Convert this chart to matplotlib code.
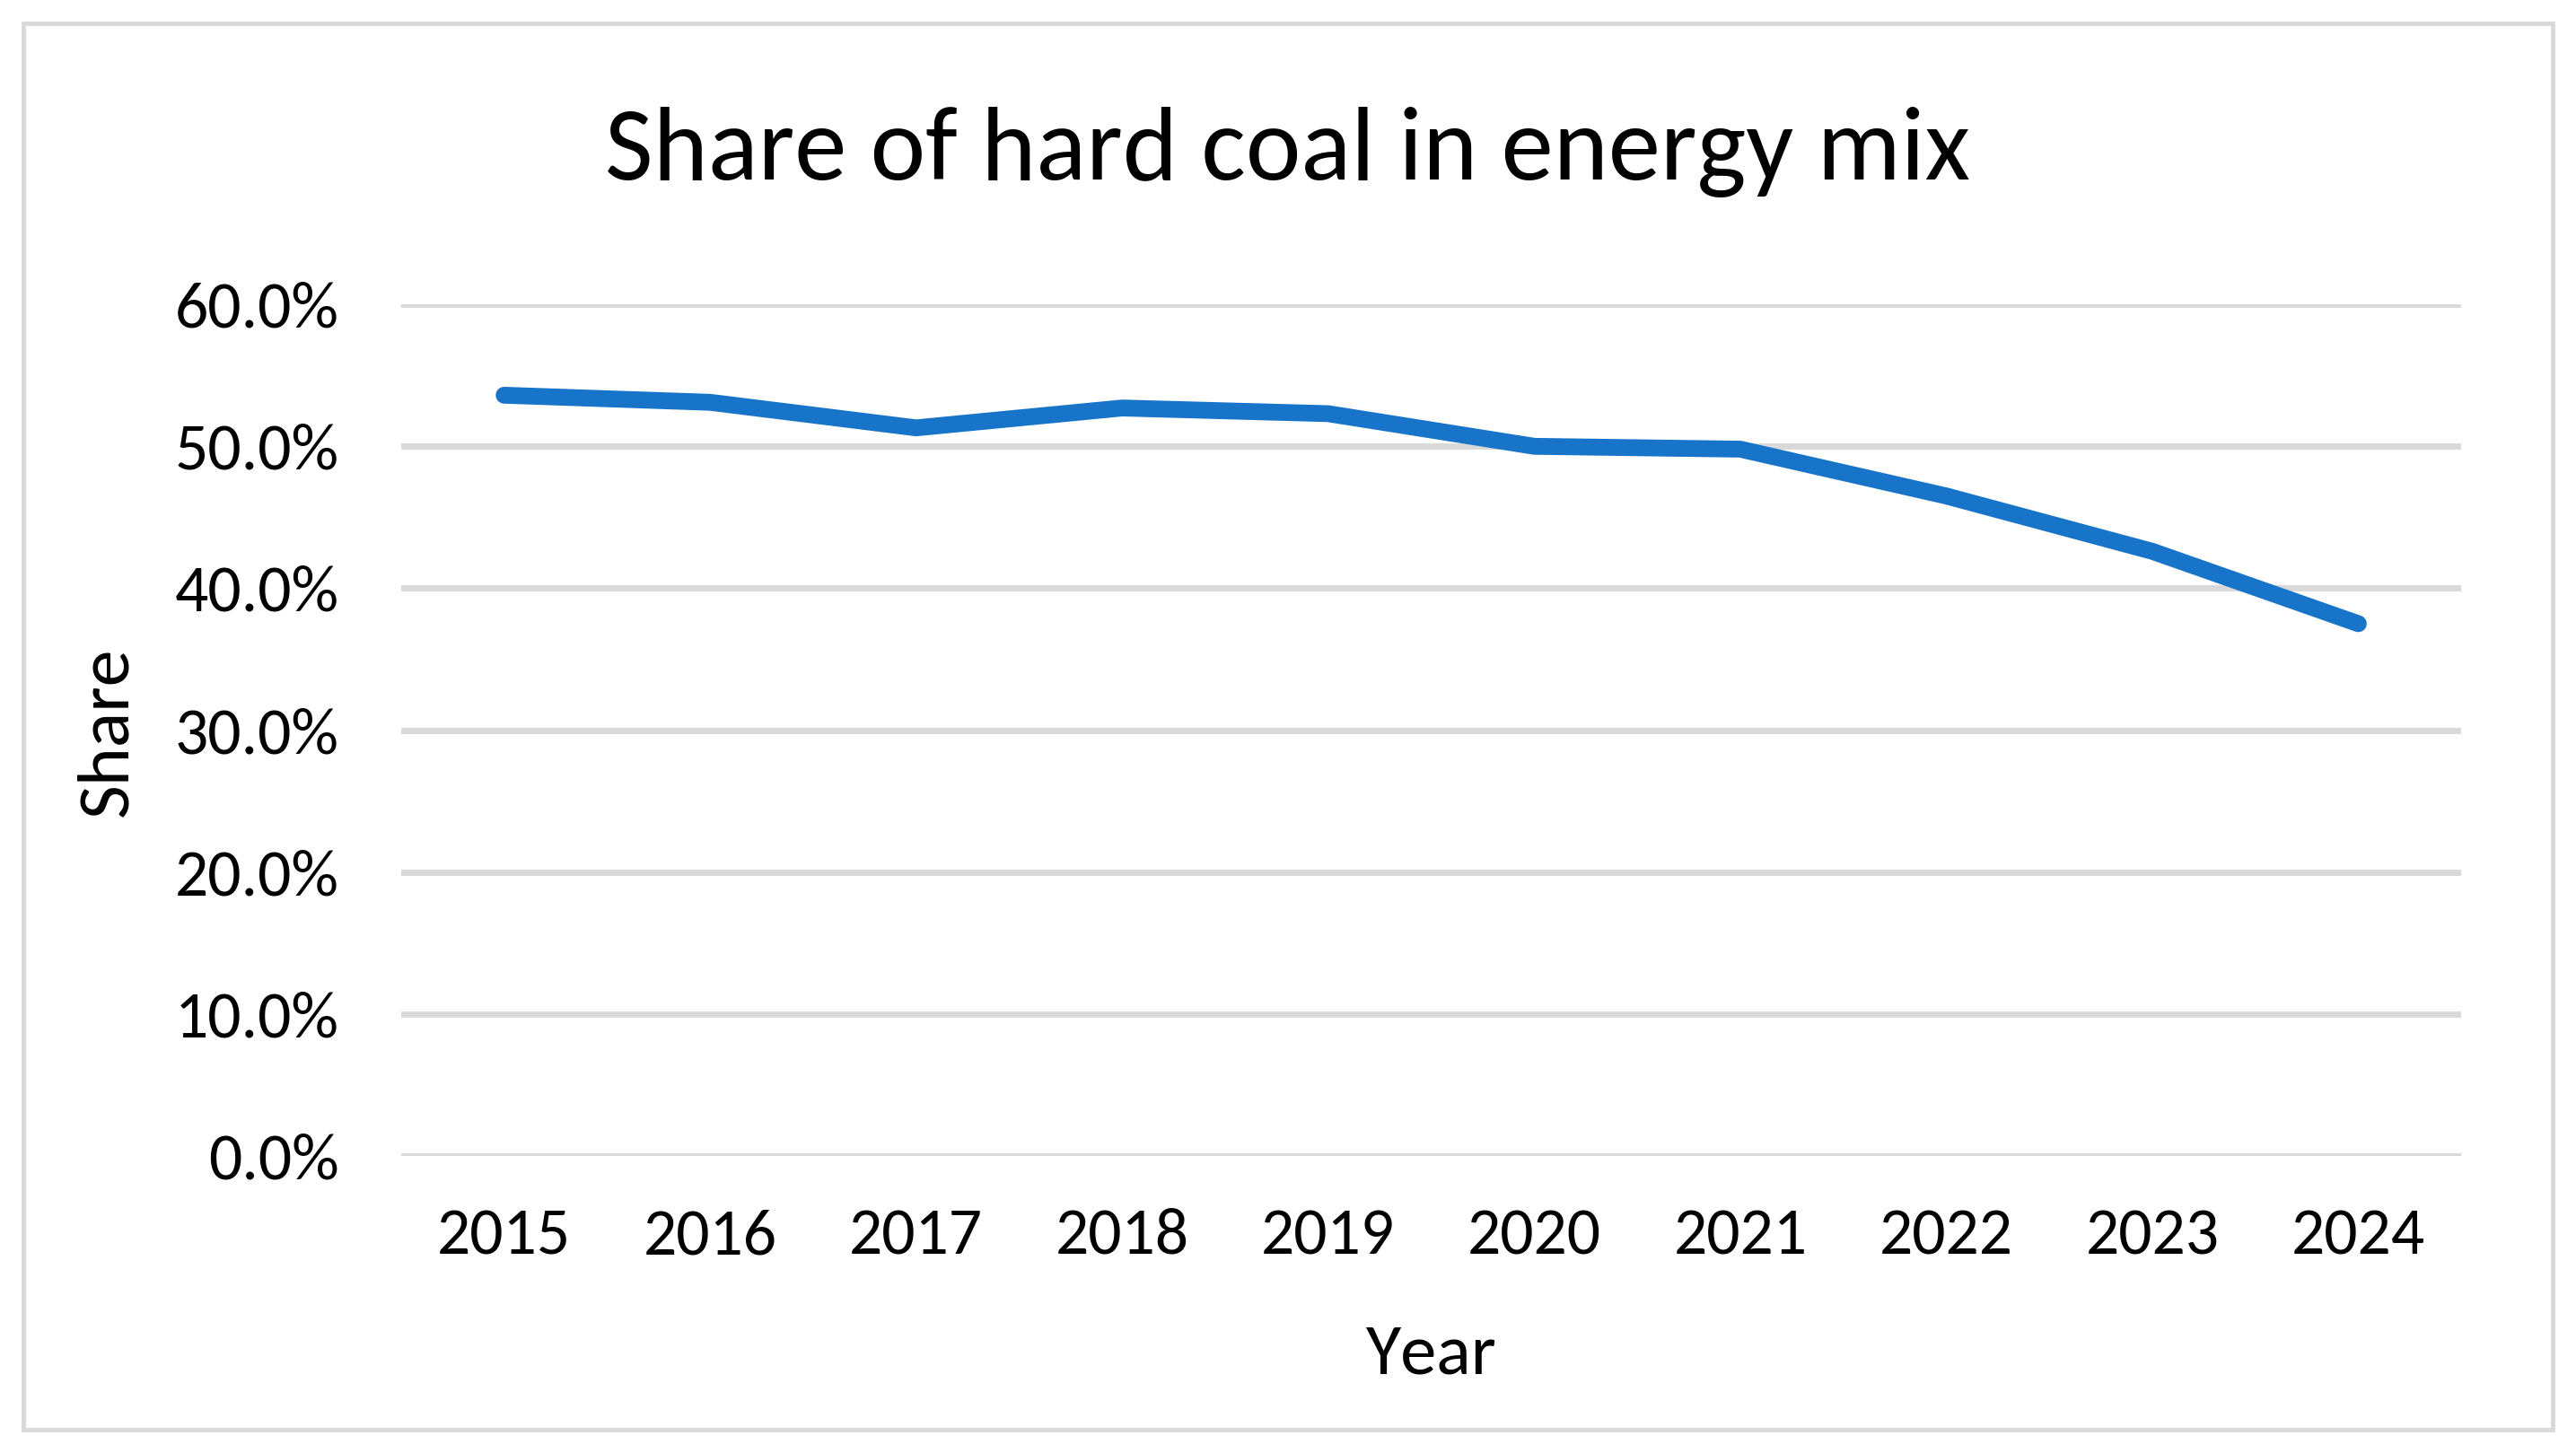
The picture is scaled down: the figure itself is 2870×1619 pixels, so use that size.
import matplotlib
matplotlib.use("Agg")
import matplotlib.pyplot as plt
from matplotlib import font_manager
from matplotlib.ticker import PercentFormatter
from matplotlib.patches import Rectangle

years = ["2015", "2016", "2017", "2018", "2019", "2020", "2021", "2022", "2023", "2024"]
share = [0.536, 0.531, 0.513, 0.527, 0.523, 0.500, 0.498, 0.465, 0.426, 0.375]
yticks = [0.0, 0.1, 0.2, 0.3, 0.4, 0.5, 0.6]

names = {f.name for f in font_manager.fontManager.ttflist}
main_font = "Carlito" if "Carlito" in names else "Lato"
plt.rcParams["font.family"] = [main_font, "DejaVu Sans"]

W, H = 2870, 1619
fig = plt.figure(figsize=(W / 100, H / 100), dpi=100)
fig.patch.set_facecolor("white")

ax = fig.add_axes([0.1557, 0.2045, 0.9555 - 0.1557, 0.7905 - 0.2045])
x = list(range(len(years)))
ax.plot(x, share, color="#1874c8", lw=13.5, solid_capstyle="round",
        solid_joinstyle="round", zorder=3)
ax.set_xlim(-0.5, len(years) - 0.5)
ax.set_ylim(0, 0.6)
ax.set_yticks(yticks)
ax.yaxis.set_major_formatter(PercentFormatter(1.0, decimals=1))
ax.set_xticks(x)
ax.set_xticklabels(years)
ax.grid(axis="y", color="#d9d9d9", lw=5)
ax.set_axisbelow(True)
for s in ax.spines.values():
    s.set_visible(False)
ax.tick_params(axis="both", length=0, colors="black")
ax.tick_params(axis="y", pad=50, labelsize=53)
ax.tick_params(axis="x", pad=42, labelsize=53)

fig.text(0.50, 0.895, "Share of hard coal in energy mix", ha="center", va="center",
         fontsize=84, color="black")
fig.text(0.5555, 0.068, "Year", ha="center", va="center", fontsize=58, color="black")
fig.text(0.0417, 0.4966, "Share", ha="center", va="center", rotation=90,
         fontsize=59, color="black")

fig.patches.append(Rectangle((26 / W, 26 / H), 1 - 52 / W, 1 - 52 / H,
                             transform=fig.transFigure, fill=False,
                             edgecolor="#d9d9d9", lw=3.5))

fig.savefig("out.png", dpi=100, facecolor="white")
